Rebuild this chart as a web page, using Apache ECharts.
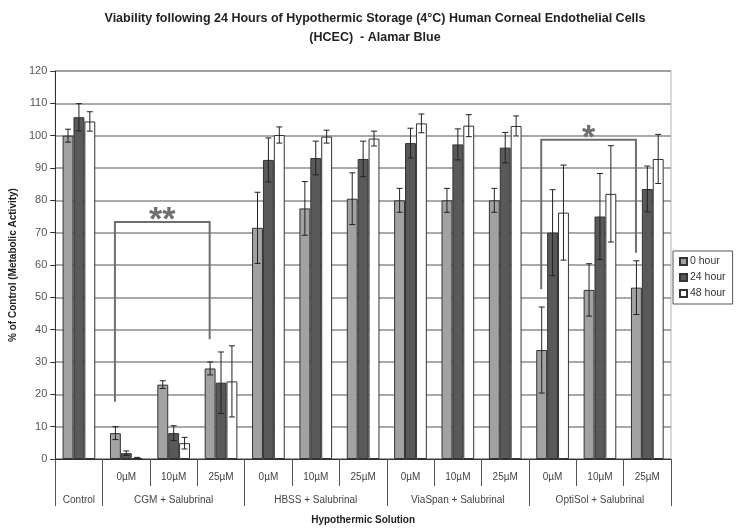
<!DOCTYPE html>
<html>
<head>
<meta charset="utf-8">
<script src="https://cdn.jsdelivr.net/npm/echarts@6/dist/echarts.min.js"></script>
<style>
  html, body { margin: 0; padding: 0; background: #fff; }
  #chart { width: 740px; height: 530px; }
</style>
</head>
<body>
<div id="chart"></div>
<script>
// concentration labels, one per bar group (Control has none)
const concLabels = ["", "0µM", "10µM", "25µM", "0µM", "10µM", "25µM",
  "0µM", "10µM", "25µM", "0µM", "10µM", "25µM"];
const groupNames = ["Control", "CGM + Salubrinal", "HBSS + Salubrinal",
  "ViaSpan + Salubrinal", "OptiSol + Salubrinal"];
const groupSizes = [1, 3, 3, 3, 3];

const seriesNames = ["0 hour", "24 hour", "48 hour"];
const hour0 = [100, 8, 23, 28, 71.5, 77.5, 80.5, 80, 80, 80, 33.7, 52.3, 53];
const hour0Err = [2, 2, 1.2, 2, 11, 8.3, 8, 3.7, 3.7, 3.7, 13.3, 8.1, 8.3];
const hour24 = [105.7, 1.8, 8, 23.6, 92.5, 93.1, 92.8, 97.7, 97.3, 96.3, 70, 75, 83.5];
const hour24Err = [4.2, 0.7, 2.3, 9.5, 6.8, 5.2, 5.5, 4.6, 4.8, 4.7, 13.3, 13.3, 7.1];
const hour48 = [104.4, 0.3, 4.9, 24, 100.2, 99.7, 99.1, 103.8, 103.1, 103, 76.2, 82, 92.8];
const hour48Err = [3, 0.2, 1.8, 11, 2.5, 2, 2.3, 2.9, 3.4, 3.1, 14.7, 14.9, 7.6];

// significance brackets: [first category, last category, top, left end, right end, mark]
const brackets = [
  [1, 3, 73.3, 17.7, 37, "**"],
  [10, 12, 98.7, 52.5, 63.8, "*"]
];

const colors = ["#a2a2a2", "#595959", "#ffffff"];
const values = [hour0, hour24, hour48];
const errors = [hour0Err, hour24Err, hour48Err];
const font = "'Liberation Sans', Arial, sans-serif";
const catGap = 0.31;

// group boundaries and label positions on the value axis
const groupBounds = [0];
groupSizes.forEach((n) => groupBounds.push(groupBounds[groupBounds.length - 1] + n));
const groupCenters = groupSizes.map((n, i) => groupBounds[i] + n / 2);

const chart = echarts.init(document.getElementById("chart"));

const barSeries = values.map((data, s) => ({
  name: seriesNames[s],
  type: "bar",
  xAxisIndex: 0,
  data: data,
  barGap: "0%",
  barCategoryGap: catGap * 100 + "%",
  itemStyle: { color: colors[s], borderColor: "#333", borderWidth: 1 },
  z: 2
}));

const errSeries = values.map((data, s) => ({
  type: "custom",
  xAxisIndex: 0,
  z: 5,
  silent: true,
  data: data.map((v, i) => [i, v, errors[s][i]]),
  renderItem: function (params, api) {
    const i = api.value(0), v = api.value(1), e = api.value(2);
    const band = api.size([1, 0])[0];
    const bw = band * (1 - catGap) / 3;
    const x = api.coord([i, v])[0] + (s - 1) * bw;
    const yTop = api.coord([i, v + e])[1];
    const yBot = api.coord([i, Math.max(v - e, 0)])[1];
    const cap = 3;
    const st = { stroke: "#222", lineWidth: 1 };
    return {
      type: "group",
      children: [
        { type: "line", shape: { x1: x, y1: yTop, x2: x, y2: yBot }, style: st },
        { type: "line", shape: { x1: x - cap, y1: yTop, x2: x + cap, y2: yTop }, style: st },
        { type: "line", shape: { x1: x - cap, y1: yBot, x2: x + cap, y2: yBot }, style: st }
      ]
    };
  }
}));

const bracketSeries = {
  type: "custom",
  xAxisIndex: 0,
  z: 10,
  silent: true,
  data: brackets.map((b) => b.slice(0, 5)),
  renderItem: function (params, api) {
    const b = brackets[params.dataIndex];
    const band = api.size([1, 0])[0];
    const off = -band * 0.24;
    const xl = api.coord([b[0], 0])[0] + off;
    const xr = api.coord([b[1], 0])[0] + off;
    const yt = api.coord([0, b[2]])[1];
    const yl = api.coord([0, b[3]])[1];
    const yr = api.coord([0, b[4]])[1];
    return {
      type: "group",
      children: [
        {
          type: "polyline",
          shape: { points: [[xl, yl], [xl, yt], [xr, yt], [xr, yr]] },
          style: { stroke: "#6e6e6e", lineWidth: 2, fill: null }
        },
        {
          type: "text",
          x: (xl + xr) / 2,
          y: yt - 1,
          style: {
            text: b[5],
            fill: "#6e6e6e",
            font: "bold 34px " + font,
            align: "center",
            verticalAlign: "middle"
          }
        }
      ]
    };
  }
};

chart.setOption({
  animation: false,
  title: {
    text: "Viability following 24 Hours of Hypothermic Storage (4°C) Human Corneal Endothelial Cells\n(HCEC)  - Alamar Blue",
    left: 370,
    textAlign: "center",
    top: 4,
    textStyle: { fontFamily: font, fontSize: 12.5, fontWeight: "bold", color: "#222", lineHeight: 19 }
  },
  legend: {
    orient: "vertical",
    left: 673,
    top: 251,
    data: seriesNames,
    icon: "rect",
    itemWidth: 7,
    itemHeight: 7,
    itemGap: 5,
    padding: [5, 7, 5, 6],
    borderColor: "#555",
    borderWidth: 1,
    textStyle: { fontFamily: font, fontSize: 10.5, color: "#333", padding: [0, 0, 0, -2] }
  },
  grid: {
    left: 51,
    right: 69,
    top: 71,
    bottom: 70,
    show: true,
    borderColor: "#b5b5b5",
    borderWidth: 1
  },
  xAxis: [
    {
      type: "category",
      data: concLabels,
      axisLine: { lineStyle: { color: "#333", width: 1 } },
      axisTick: { show: true, interval: 0, length: 27, lineStyle: { color: "#555" } },
      axisLabel: { interval: 0, margin: 13, fontFamily: font, fontSize: 10, color: "#444" },
      splitLine: { show: false }
    },
    {
      type: "value",
      min: 0,
      max: 13,
      position: "bottom",
      axisLine: { show: false },
      splitLine: { show: false },
      axisTick: {
        show: true,
        length: 47,
        customValues: groupBounds,
        lineStyle: { color: "#555" }
      },
      axisLabel: {
        customValues: groupCenters,
        margin: 36,
        fontFamily: font,
        fontSize: 10,
        color: "#444",
        formatter: (v) => groupNames[groupCenters.indexOf(v)]
      },
      name: "Hypothermic Solution",
      nameLocation: "middle",
      nameGap: 56,
      nameTextStyle: { fontFamily: font, fontSize: 10, fontWeight: "bold", color: "#222" }
    }
  ],
  yAxis: {
    type: "value",
    min: 0,
    max: 120,
    interval: 10,
    name: "% of Control (Metabolic Activity)",
    nameLocation: "middle",
    nameGap: 32,
    nameTextStyle: { fontFamily: font, fontSize: 10, fontWeight: "bold", color: "#222" },
    axisLine: { show: true, lineStyle: { color: "#333" } },
    axisTick: { show: true, length: 5, lineStyle: { color: "#333" } },
    axisLabel: { fontFamily: font, fontSize: 11, color: "#555", margin: 8 },
    splitLine: { lineStyle: { color: "#8c8c8c", width: 1.5 } }
  },
  series: [...barSeries, ...errSeries, bracketSeries]
});
</script>
</body>
</html>
